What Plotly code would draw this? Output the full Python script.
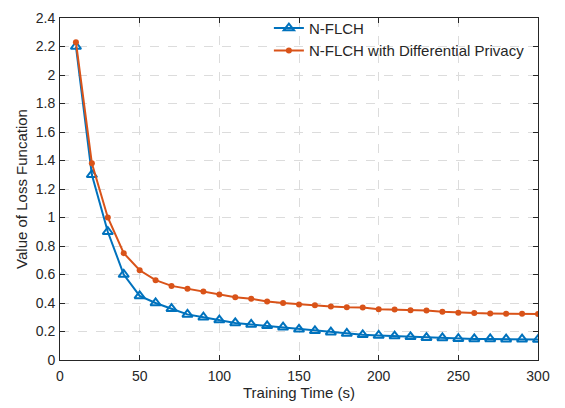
import plotly.graph_objects as go

time_s = list(range(10, 301, 10))
nflch = [2.20, 1.30, 0.90, 0.60, 0.45, 0.40, 0.36, 0.32, 0.30, 0.28,
         0.26, 0.25, 0.24, 0.23, 0.215, 0.205, 0.195, 0.186, 0.177, 0.172,
         0.168, 0.163, 0.157, 0.155, 0.150, 0.148, 0.148, 0.146, 0.146, 0.143]
nflch_dp = [2.23, 1.38, 1.00, 0.75, 0.63, 0.56, 0.52, 0.50, 0.48, 0.46,
            0.44, 0.43, 0.41, 0.40, 0.39, 0.385, 0.375, 0.37, 0.368, 0.357,
            0.354, 0.35, 0.348, 0.338, 0.331, 0.329, 0.327, 0.325, 0.325, 0.322]

BLUE = "#0072BD"
ORANGE = "#D95319"

fig = go.Figure()
fig.add_trace(go.Scatter(
    x=time_s, y=nflch, name="N-FLCH", mode="lines+markers",
    line=dict(color=BLUE, width=2),
    marker=dict(symbol="triangle-up-open", size=9, color=BLUE, line=dict(width=2)),
))
fig.add_trace(go.Scatter(
    x=time_s, y=nflch_dp, name="N-FLCH with Differential Privacy", mode="lines+markers",
    line=dict(color=ORANGE, width=2),
    marker=dict(symbol="circle", size=6, color=ORANGE),
))

axis_common = dict(
    showline=True, linecolor="#262626", linewidth=1, mirror="ticks",
    ticks="inside", ticklen=5, tickcolor="#262626",
    showgrid=True, gridcolor="#dcdcdc", griddash="dash", gridwidth=1,
    zeroline=False, tickfont=dict(size=14, color="#262626"),
)

fig.update_layout(
    width=565, height=408,
    margin=dict(l=60, r=27, t=10, b=46),
    paper_bgcolor="white", plot_bgcolor="white",
    font=dict(family="Liberation Sans, Arial, sans-serif", size=15, color="#262626"),
    xaxis=dict(range=[0, 300], dtick=50, ticklabelstandoff=3,
               title=dict(text="Training Time (s)", standoff=4, font=dict(size=15)), **axis_common),
    yaxis=dict(range=[0, 2.4], dtick=0.2, tickformat="~g", ticklabelstandoff=1,
               title=dict(text="Value of Loss Funcation", standoff=4, font=dict(size=15)), **axis_common),
    legend=dict(x=0.437, y=1.018, xanchor="left", yanchor="top", bgcolor="rgba(255,255,255,0)",
                font=dict(size=15), tracegroupgap=0, itemwidth=30),
)

fig.write_html("out.html", config={"displayModeBar": False},
               post_script="document.body.style.margin='0px';")
